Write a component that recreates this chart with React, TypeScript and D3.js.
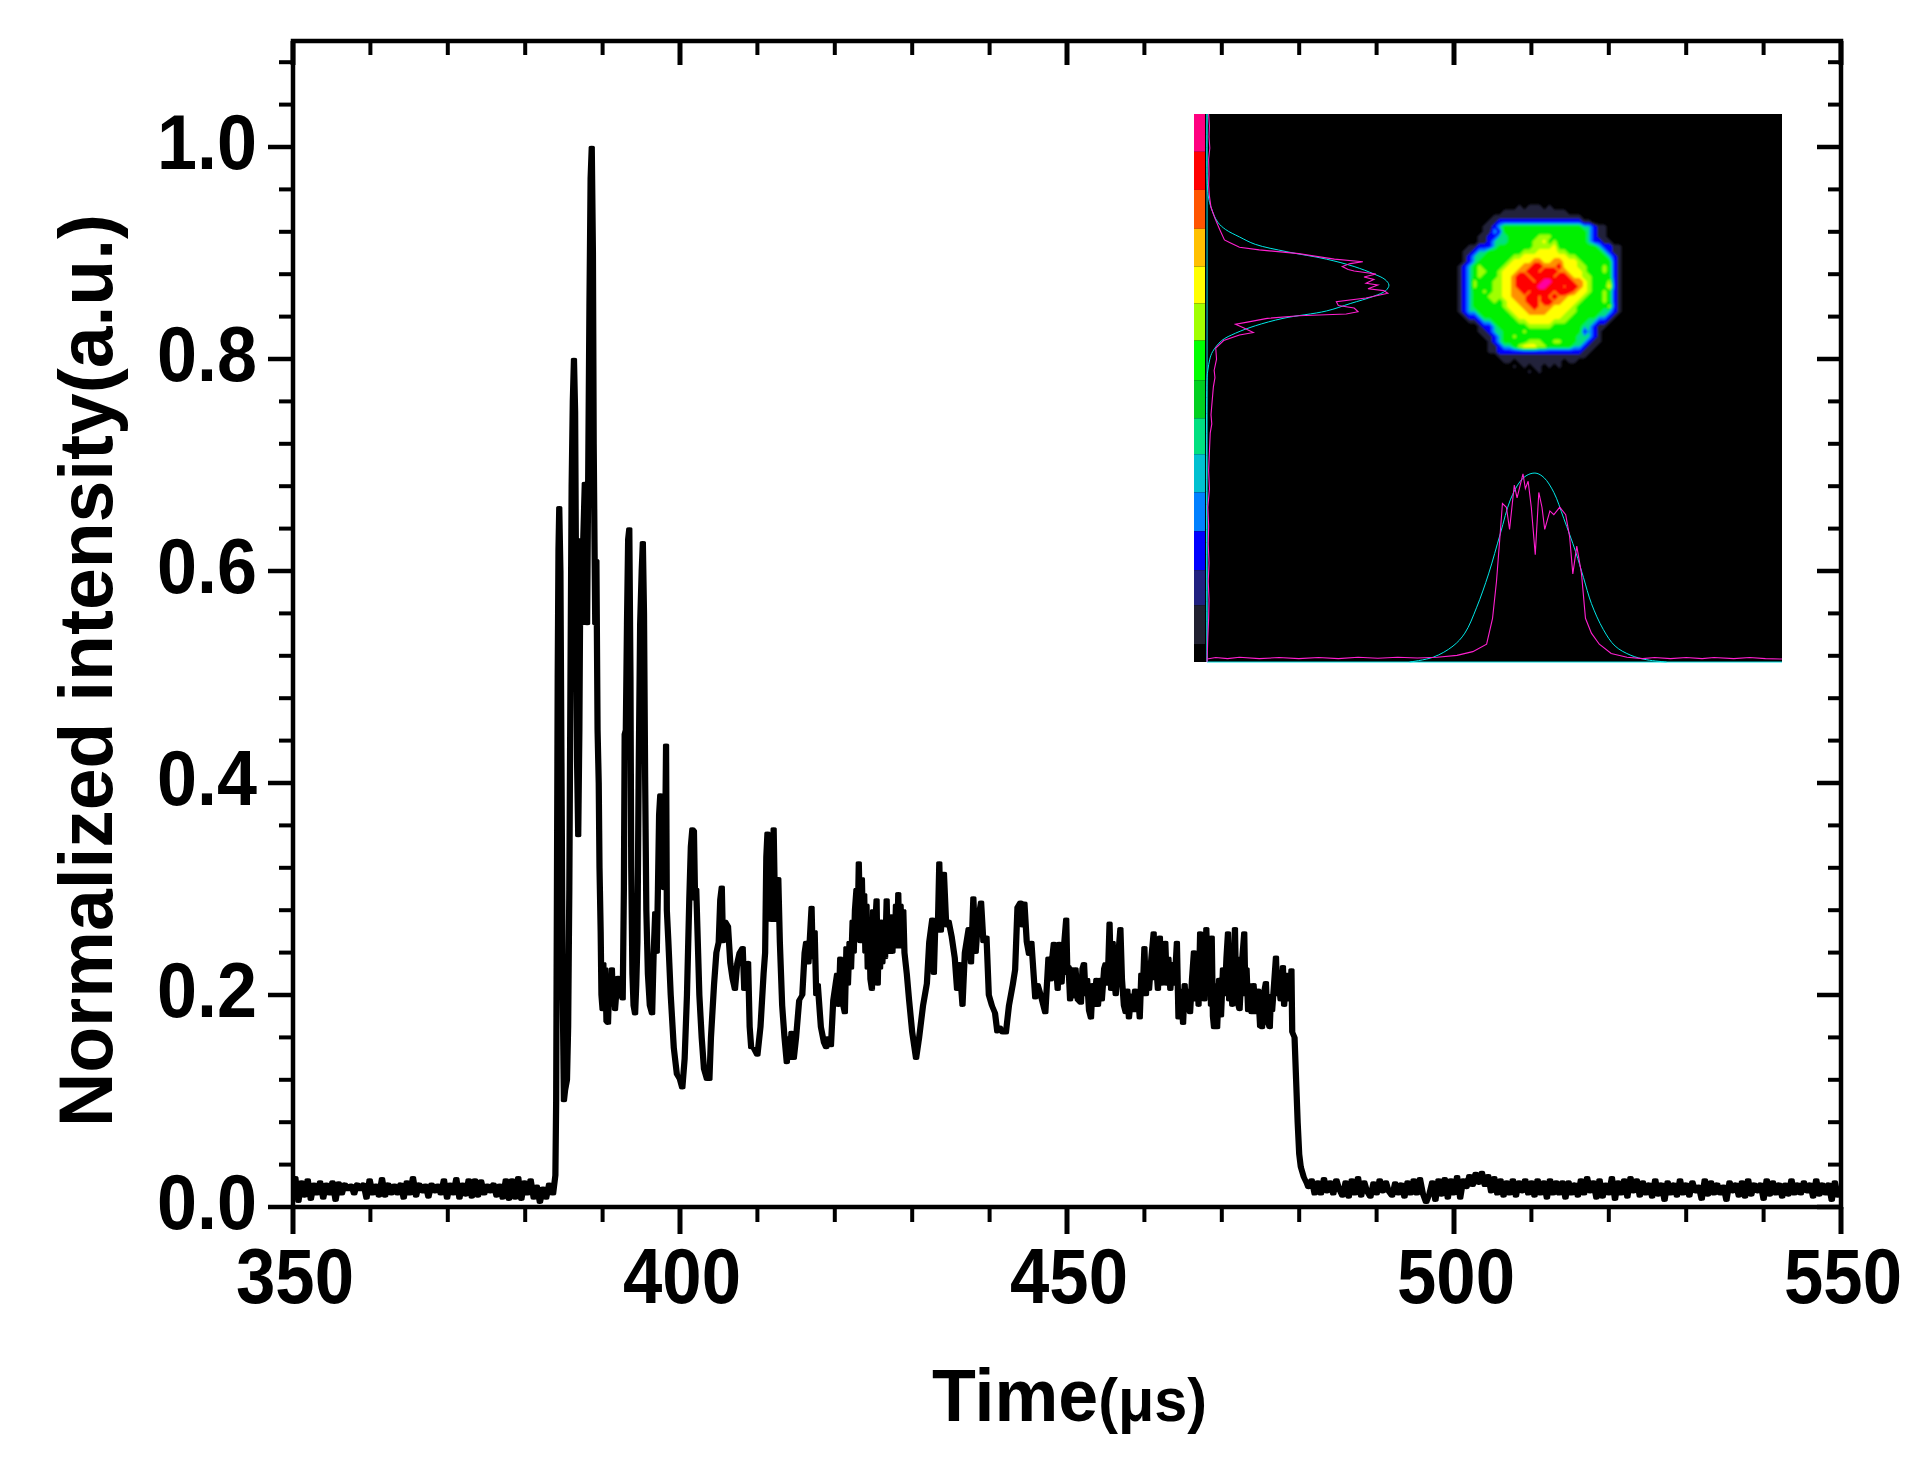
import React from "react";
import * as d3 from "d3";

const W = 1917, H = 1458;
const xDomain = [350, 550];
const yDomain = [0, 1.1];
const xMajor = [350, 400, 450, 500, 550];
const xMinor = [360, 370, 380, 390, 410, 420, 430, 440, 460, 470, 480, 490, 510, 520, 530, 540];
const yMajor = [0, 0.2, 0.4, 0.6, 0.8, 1.0];
const yMinor = [0.04, 0.08, 0.12, 0.16, 0.24, 0.28, 0.32, 0.36, 0.44, 0.48, 0.52, 0.56, 0.64, 0.68, 0.72, 0.76, 0.84, 0.88, 0.92, 0.96, 1.04, 1.08];

const baselineLeftStart = 350.3, baselineLeftStep = 0.4;
const baselineLeft = [.028,.005,.024,.01,.026,.007,.022,.012,.024,.008,.022,.012,.024,.006,.023,.012,.022,.016,.021,.012,.022,.016,.022,.008,.026,.012,.021,.01,.027,.01,.022,.012,.021,.012,.022,.008,.024,.012,.028,.01,.022,.014,.021,.009,.022,.014,.021,.012,.026,.008,.022,.012,.027,.008,.022,.011,.026,.009,.026,.01,.025,.012,.021,.014,.022,.01,.021,.008,.026,.007,.026,.008,.028,.007,.024,.012,.026,.008,.02,.004,.018,.008,.022,.012];

const baselineRightStart = 481.2, baselineRightStep = 0.4;
const baselineRight = [.018,.026,.012,.024,.012,.027,.014,.024,.012,.026,.016,.01,.024,.009,.026,.012,.028,.01,.024,.014,.009,.023,.012,.026,.014,.024,.014,.01,.023,.012,.022,.009,.024,.012,.026,.012,.027,.012,.004,.012,.024,.006,.026,.011,.027,.008,.026,.012,.029,.008,.026,.018,.03,.02,.032,.022,.033,.02,.03,.014,.028,.012,.026,.01,.024,.012,.026,.01,.024,.014,.026,.012,.024,.01,.026,.012,.024,.008,.026,.012,.024,.012,.024,.008,.024,.012,.022,.01,.026,.012,.028,.014,.024,.008,.026,.009,.022,.012,.028,.007,.024,.012,.026,.009,.028,.014,.026,.01,.024,.012,.022,.009,.026,.011,.022,.006,.024,.012,.022,.01,.026,.012,.022,.01,.024,.014,.02,.007,.026,.011,.024,.012,.022,.012,.02,.006,.024,.014,.022,.01,.024,.009,.026,.011,.022,.014,.022,.007,.026,.011,.024,.012,.022,.009,.022,.011,.026,.012,.022,.012,.024,.014,.022,.009,.026,.011,.022,.012,.022,.006,.024,.01];

const mainCurve: [number, number][] = [[383.6,.012],[383.9,.03],[384.0,.10],[384.1,.30],[384.2,.5],[384.3,.62],[384.4,.66],[384.55,.6],[384.7,.4],[384.85,.2],[385.0,.1],[385.15,.11],[385.4,.12],[385.55,.17],[385.7,.30],[385.85,.5],[386.0,.68],[386.15,.76],[386.3,.80],[386.45,.75],[386.6,.55],[386.7,.42],[386.85,.35],[387.0,.45],[387.15,.63],[387.3,.55],[387.5,.63],[387.7,.683],[387.85,.60],[388,.55],[388.1,.65],[388.3,.85],[388.45,.97],[388.6,1.0],[388.75,.90],[388.85,.72],[388.95,.63],[389.05,.55],[389.2,.61],[389.35,.45],[389.5,.4],[389.6,.32],[389.75,.26],[389.85,.2],[390,.186],[390.1,.23],[390.2,.19],[390.35,.225],[390.5,.175],[390.7,.173],[390.85,.21],[391,.19],[391.2,.225],[391.35,.19],[391.5,.21],[391.6,.186],[391.8,.205],[392,.217],[392.2,.2],[392.4,.2],[392.6,.196],[392.75,.3],[392.85,.446],[393,.45],[393.15,.55],[393.3,.63],[393.45,.64],[393.6,.5],[393.7,.32],[393.85,.22],[394,.19],[394.2,.182],[394.35,.21],[394.5,.25],[394.65,.4],[394.85,.55],[395.05,.6],[395.2,.627],[395.35,.56],[395.5,.4],[395.65,.28],[395.85,.22],[396.1,.19],[396.4,.182],[396.6,.24],[396.8,.278],[397,.24],[397.15,.3],[397.3,.37],[397.45,.389],[397.6,.32],[397.75,.38],[397.95,.3],[398.1,.36],[398.2,.436],[398.3,.28],[398.5,.25],[398.8,.2],[399.2,.15],[399.6,.125],[400,.12],[400.3,.112],[400.6,.14],[400.9,.2],[401.2,.29],[401.4,.34],[401.6,.357],[401.8,.355],[401.95,.29],[402.1,.3],[402.3,.25],[402.5,.2],[402.8,.16],[403.1,.13],[403.5,.12],[403.8,.12],[404,.16],[404.4,.21],[404.7,.24],[405,.25],[405.2,.29],[405.4,.302],[405.55,.25],[405.8,.27],[406.2,.265],[406.5,.23],[406.8,.215],[407.1,.205],[407.4,.23],[407.7,.24],[408.1,.245],[408.3,.205],[408.5,.23],[408.8,.231],[409.0,.17],[409.2,.15],[409.5,.15],[410,.143],[410.4,.17],[410.8,.22],[411,.24],[411.15,.33],[411.3,.353],[411.45,.29],[411.6,.33],[411.8,.27],[412.1,.357],[412.3,.27],[412.5,.29],[412.7,.31],[412.9,.25],[413.2,.19],[413.5,.16],[413.8,.136],[414,.16],[414.2,.14],[414.4,.165],[414.7,.14],[415,.16],[415.4,.195],[415.8,.2],[416.1,.24],[416.3,.25],[416.6,.23],[417,.283],[417.15,.235],[417.4,.26],[417.6,.2],[417.8,.21],[418.2,.17],[418.6,.155],[418.9,.15],[419.2,.16],[419.5,.152],[419.8,.195],[420.1,.21],[420.3,.22],[420.5,.19],[420.7,.235],[420.9,.2],
[421.1,.19],[421.3,.183],[421.5,.245],[421.7,.21],[421.9,.25],[422.1,.225],[422.3,.27],[422.45,.24],[422.6,.28],[422.8,.3],[422.95,.26],[423.1,.325],[423.3,.25],[423.5,.31],[423.65,.26],[423.8,.295],[423.95,.24],[424.1,.285],[424.25,.225],[424.45,.265],[424.6,.215],[424.8,.205],[424.95,.28],[425.1,.225],[425.25,.27],[425.4,.29],[425.55,.21],[425.7,.265],[425.85,.225],[426,.27],[426.15,.23],[426.3,.26],[426.5,.235],[426.7,.29],[426.85,.24],[427,.27],[427.15,.24],[427.3,.275],[427.45,.24],[427.6,.27],[427.75,.245],[427.9,.285],[428.05,.245],[428.2,.296],[428.35,.245],[428.5,.285],[428.7,.25],[428.85,.28],[429,.24],[429.3,.22],[429.6,.195],[430,.165],[430.5,.14],[430.9,.16],[431.4,.19],[431.9,.211],[432.2,.25],[432.6,.272],[432.8,.22],[433,.27],[433.3,.26],[433.5,.325],[433.7,.26],[433.9,.28],[434.1,.315],[434.4,.265],[434.7,.27],[435.1,.255],[435.5,.235],[435.8,.205],[436.1,.23],[436.5,.19],[436.8,.24],[437.3,.263],[437.6,.23],[437.9,.292],[438.2,.24],[438.5,.27],[438.9,.288],[439.2,.25],[439.6,.255],[439.9,.2],[440.3,.19],[440.7,.183],[441,.165],[441.3,.17],[441.7,.164],[442.1,.164],[442.5,.19],[443,.21],[443.3,.224],[443.6,.283],[444,.288],[444.25,.265],[444.5,.287],[444.8,.25],[445.1,.238],[445.4,.25],[445.9,.197],[446.2,.21],[446.6,.2],[447.2,.183],[447.6,.235],[447.9,.214],[448.1,.235],[448.3,.249],[448.45,.215],[448.6,.225],[448.8,.205],[449,.249],[449.15,.22],[449.3,.211],[449.6,.245],[449.9,.272],[450.05,.22],[450.2,.227],[450.4,.195],[450.7,.225],[450.9,.198],[451.1,.225],[451.4,.195],[451.8,.192],[452,.225],[452.2,.23],[452.4,.2],[452.6,.215],[452.85,.185],[453.1,.178],[453.3,.21],[453.5,.19],[453.8,.215],[454,.19],[454.3,.215],[454.5,.195],[454.8,.225],[455,.23],[455.25,.21],[455.5,.268],[455.7,.205],[455.9,.25],[456.1,.215],[456.3,.2],[456.6,.235],[456.9,.263],[457.1,.215],[457.35,.19],[457.6,.183],[457.8,.205],[458,.178],[458.3,.2],[458.5,.185],[458.8,.205],[459,.185],[459.2,.2],[459.4,.178],[459.6,.22],[459.8,.205],[460,.245],[460.2,.2],[460.4,.225],[460.6,.205],[460.9,.235],[461.2,.259],[461.35,.215],[461.5,.23],[461.75,.205],[462,.255],[462.2,.21],[462.45,.24],[462.7,.25],[462.9,.21],[463.1,.235],[463.35,.205],[463.6,.23],[463.9,.21],[464.2,.25],[464.4,.178],[464.7,.205],[465,.173],[465.2,.21],[465.4,.185],[465.7,.205],[465.9,.183],[466.15,.215],[466.4,.241],[466.6,.195],[466.8,.225],[467,.19],[467.2,.259],[467.35,.2],[467.5,.235],[467.75,.195],[468,.263],[468.2,.205],[468.45,.24],[468.6,.19],[468.7,.255],[468.85,.18],[469,.169],[469.15,.21],[469.4,.169],[469.65,.215],[469.9,.18],[470.15,.225],[470.4,.2],[470.6,.235],[470.8,.259],[470.95,.195],[471.1,.235],[471.35,.19],[471.7,.263],[471.85,.2],[472,.235],[472.15,.19],[472.3,.186],[472.6,.23],[472.9,.259],[473.05,.2],[473.2,.225],[473.4,.185],[473.6,.21],[473.85,.183],[474.1,.21],[474.4,.183],[474.7,.205],[474.95,.17],[475.2,.169],[475.4,.2],[475.7,.212],[475.9,.175],[476.2,.169],[476.35,.2],[476.5,.185],[476.75,.21],[477,.236],[477.15,.2],[477.3,.215],[477.6,.195],[477.9,.227],[478.05,.19],[478.2,.205],[478.4,.195],[478.6,.22],[478.8,.195],[479,.224],[479.1,.165],[479.4,.16],[479.6,.12],[479.8,.08],[480,.05],[480.2,.038],[480.6,.028],[481,.022]];

// inset: readings on a 35..1522 / 38..1518 reading frame
const barColors = ["#ff0080","#ff0000","#ff5500","#ffc000","#ffff00","#a0ff00","#00ff00","#00d020","#00e080","#00c0d0","#0080ff","#0000ff","#202080","#202030","#000000"];
const barEdges = [38,140,243,348,450,550,650,757,860,957,1060,1165,1270,1365,1470,1518];
const leftMagenta: [number, number][] = [[38,72],[70,74],[100,73],[130,75],[160,72],[200,73],[230,72],[260,74],[290,78],[320,88],[350,100],[378,112],[385,125],[398,150],[405,200],[415,300],[430,390],[437,462],[442,430],[450,410],[458,425],[462,440],[470,495],[478,465],[485,490],[495,470],[500,500],[510,475],[515,515],[522,525],[535,470],[545,395],[555,400],[562,440],[572,450],[578,420],[583,300],[590,220],[600,170],[606,140],[615,160],[628,185],[635,150],[650,110],[670,90],[700,92],[730,86],[750,88],[775,84],[800,82],[825,80],[850,78],[875,80],[900,76],[950,74],[1000,72],[1050,74],[1100,70],[1150,72],[1200,71],[1250,73],[1300,71],[1350,73],[1400,72],[1450,70],[1518,68]];
const leftCyan: [number, number][] = [[38,68],[250,70],[290,78],[330,95],[350,115],[370,150],[390,190],[410,270],[430,370],[450,440],[470,490],[485,518],[500,528],[515,520],[530,490],[550,430],[570,370],[590,260],[610,190],[630,140],[650,105],[680,82],[700,75],[730,70],[750,68],[1518,68]];
const bottomMagenta: [number, number][] = [[68,1510],[90,1506],[120,1509],[150,1505],[200,1509],[250,1506],[300,1509],[350,1506],[400,1509],[450,1505],[500,1508],[550,1505],[600,1507],[650,1505],[700,1500],[740,1490],[775,1470],[790,1400],[800,1300],[808,1190],[815,1090],[825,1100],[833,1160],[845,1040],[852,1075],[867,1010],[873,1050],[880,1030],[888,1100],[898,1228],[907,1060],[915,1100],[922,1160],[935,1110],[945,1120],[960,1100],[975,1120],[985,1180],[993,1280],[1003,1205],[1015,1280],[1025,1400],[1040,1440],[1060,1470],[1090,1495],[1130,1505],[1170,1509],[1200,1506],[1240,1509],[1280,1506],[1320,1509],[1350,1506],[1400,1509],[1440,1506],[1480,1509],[1522,1510]];
const bottomCyan: [number, number][] = [[580,1518],[640,1505],[690,1475],[720,1440],[750,1370],[780,1280],[810,1170],[835,1080],[860,1030],[880,1012],[900,1008],[920,1020],[945,1060],[970,1130],[1000,1220],[1020,1290],[1040,1360],[1070,1430],[1100,1475],[1140,1500],[1180,1512],[1230,1518]];

const beamRows = [
"000000000000000000000000000000000000",
"000000000000000000000000000000000000",
"000000000000001011101000000000000000",
"000000000001111111111111000000000000",
"000000000111111111111111111000000000",
"000000001122222222222222222110000000",
"000000011234444444444444444332110000",
"000000011324444444444444444432110000",
"000000112233444444555444444432110000",
"000000112333444445564544444432211000",
"000011222344444445555644444444322110",
"000112334444444555666655444444432110",
"000123344444455666666666554444443210",
"000123444444566667766776665444444210",
"001234544445666778877786665544454210",
"001234554456667788788877666544454210",
"001234544456678878888788766554444210",
"001235444556678887899888877654445210",
"001235444556678888998887887654446210",
"001234454556677878888788876654454210",
"001234445556677788787877666544454210",
"001234444545667788788776665444454210",
"001234444445666778777666654444445210",
"001233444444566677776666554444433210",
"000122344444456666666665544444332100",
"000011233444445566666555444433221000",
"000000122344444455555444444332110000",
"000000112334444544444444444232100000",
"000000011234454444444444443332100000",
"000000001234444455544554443321100000",
"000000001123345666554444433211000000",
"000000001122222222222222222110000000",
"000000000011111111111111111100000000",
"000000000001101111111110110000000000",
"000000000000010101101010000000000000",
"000000000000000010100000000000000000",
];
const beamThresholds = [0.6, 1.5, 2.4, 3.0, 3.6, 4.6, 5.5, 6.3, 7.2, 8.5];
const beamColors = ["#24243a", "#0000ff", "#0080ff", "#00e080", "#00f000", "#a0ff00", "#ffff00", "#ff9000", "#ff0000", "#ff00a0"];

const plot = { left: 293, right: 1841, top: 41, bottom: 1207 };
const inset = { left: 1194, right: 1782, top: 114, bottom: 662 };
const FONT = "'Liberation Sans', Arial, sans-serif";

export default function App() {
  const x = d3.scaleLinear().domain(xDomain).range([plot.left, plot.right]);
  const y = d3.scaleLinear().domain(yDomain).range([plot.bottom, plot.top]);
  const pts: [number, number][] = [
    ...baselineLeft.map((v, i) => [baselineLeftStart + i * baselineLeftStep, v] as [number, number]),
    ...mainCurve,
    ...baselineRight.map((v, i) => [baselineRightStart + i * baselineRightStep, v] as [number, number]).filter(d => d[0] <= 549.8),
  ];
  const XS = 2.4;
  const curve = d3.line<[number, number]>().x(d => x(d[0]) / XS).y(d => y(d[1]))(pts) as string;

  const ix = d3.scaleLinear().domain([35, 1522]).range([inset.left, inset.right]);
  const iy = d3.scaleLinear().domain([38, 1518]).range([inset.top, inset.bottom]);
  const vert = d3.line<[number, number]>().x(d => ix(d[1])).y(d => iy(d[0]));
  const horz = d3.line<[number, number]>().x(d => ix(d[0])).y(d => iy(d[1]));
  const vertSmooth = d3.line<[number, number]>().x(d => ix(d[1])).y(d => iy(d[0])).curve(d3.curveCatmullRom);
  const horzSmooth = d3.line<[number, number]>().x(d => ix(d[0])).y(d => iy(d[1])).curve(d3.curveCatmullRom);

  const n = beamRows.length;
  const values: number[] = [];
  beamRows.forEach(r => { for (let c = 0; c < n; c++) values.push(Number(r.padEnd(n, "0")[c])); });
  const bands = d3.contours().size([n, n]).smooth(true).thresholds(beamThresholds)(values);
  const cell = 5;
  const beamCx = 1537, beamCy = 284;
  const gridPath = d3.geoPath(d3.geoTransform({
    point(px: number, py: number) {
      (this as any).stream.point(beamCx + (px - n / 2) * cell, beamCy + (py - n / 2) * cell);
    },
  }));

  const axis = "#000";
  return (
    <svg width={W} height={H} viewBox={`0 0 ${W} ${H}`} style={{ position: "absolute", left: 0, top: 0, background: "#fff" }} fontFamily={FONT} fontWeight="bold">
      <defs>
        <filter id="soft" x="-10%" y="-10%" width="120%" height="120%">
          <feGaussianBlur stdDeviation="1.1" />
        </filter>
      </defs>
      {/* inset */}
      <rect x={inset.left} y={inset.top} width={inset.right - inset.left} height={inset.bottom - inset.top} fill="#000" />
      {barColors.map((c, i) => (
        <rect key={c + i} x={inset.left} y={iy(barEdges[i])} width={11} height={iy(barEdges[i + 1]) - iy(barEdges[i])} fill={c} />
      ))}
      <g filter="url(#soft)">
        {bands.map((b, i) => <path key={i} d={gridPath(b as any) as string} fill={beamColors[i]} />)}
      </g>
      <path d={`M${ix(68)},${iy(38)}V${iy(1518)}H${inset.right}`} fill="none" stroke="#00e0e0" strokeWidth={1} />
      <path d={vertSmooth(leftCyan) as string} fill="none" stroke="#00e8e8" strokeWidth={1} />
      <path d={vert(leftMagenta) as string} fill="none" stroke="#ff20d0" strokeWidth={1.1} />
      <path d={horzSmooth(bottomCyan) as string} fill="none" stroke="#00e8e8" strokeWidth={1} />
      <path d={horz(bottomMagenta) as string} fill="none" stroke="#ff20d0" strokeWidth={1.1} />

      {/* curve */}
      <g transform={`scale(${XS},1)`}>
        <path d={curve} fill="none" stroke="#000" strokeWidth={2.6} strokeLinejoin="round" strokeLinecap="round" />
      </g>

      {/* frame and ticks */}
      <rect x={plot.left} y={plot.top} width={plot.right - plot.left} height={plot.bottom - plot.top} fill="none" stroke={axis} strokeWidth={4.5} />
      {xMajor.map(t => (
        <g key={t}>
          <line x1={x(t)} x2={x(t)} y1={plot.bottom} y2={plot.bottom + 27} stroke={axis} strokeWidth={5} />
          <line x1={x(t)} x2={x(t)} y1={plot.top} y2={plot.top + 24} stroke={axis} strokeWidth={5} />
          <text x={x(t) + 2} y={1303} fontSize={78} textAnchor="middle" textLength={118} lengthAdjust="spacingAndGlyphs">{t}</text>
        </g>
      ))}
      {xMinor.map(t => (
        <g key={t}>
          <line x1={x(t)} x2={x(t)} y1={plot.bottom} y2={plot.bottom + 15} stroke={axis} strokeWidth={4} />
          <line x1={x(t)} x2={x(t)} y1={plot.top} y2={plot.top + 14} stroke={axis} strokeWidth={4} />
        </g>
      ))}
      {yMajor.map(t => (
        <g key={t}>
          <line x1={plot.left - 25} x2={plot.left} y1={y(t)} y2={y(t)} stroke={axis} strokeWidth={4.5} />
          <line x1={plot.right - 24} x2={plot.right} y1={y(t)} y2={y(t)} stroke={axis} strokeWidth={4.5} />
          <text x={257} y={y(t) + 22} fontSize={78} textAnchor="end" textLength={100} lengthAdjust="spacingAndGlyphs">{t.toFixed(1)}</text>
        </g>
      ))}
      {yMinor.map(t => (
        <g key={t}>
          <line x1={plot.left - 14} x2={plot.left} y1={y(t)} y2={y(t)} stroke={axis} strokeWidth={4} />
          <line x1={plot.right - 13} x2={plot.right} y1={y(t)} y2={y(t)} stroke={axis} strokeWidth={4} />
        </g>
      ))}

      {/* titles */}
      <text x={932} y={1421} textLength={275} lengthAdjust="spacingAndGlyphs">
        <tspan fontSize={75}>Time</tspan><tspan fontSize={62}>(μs)</tspan>
      </text>
      <text transform="translate(112,1127) rotate(-90)" fontSize={76} textLength={913} lengthAdjust="spacingAndGlyphs">Normalized intensity(a.u.)</text>
    </svg>
  );
}
